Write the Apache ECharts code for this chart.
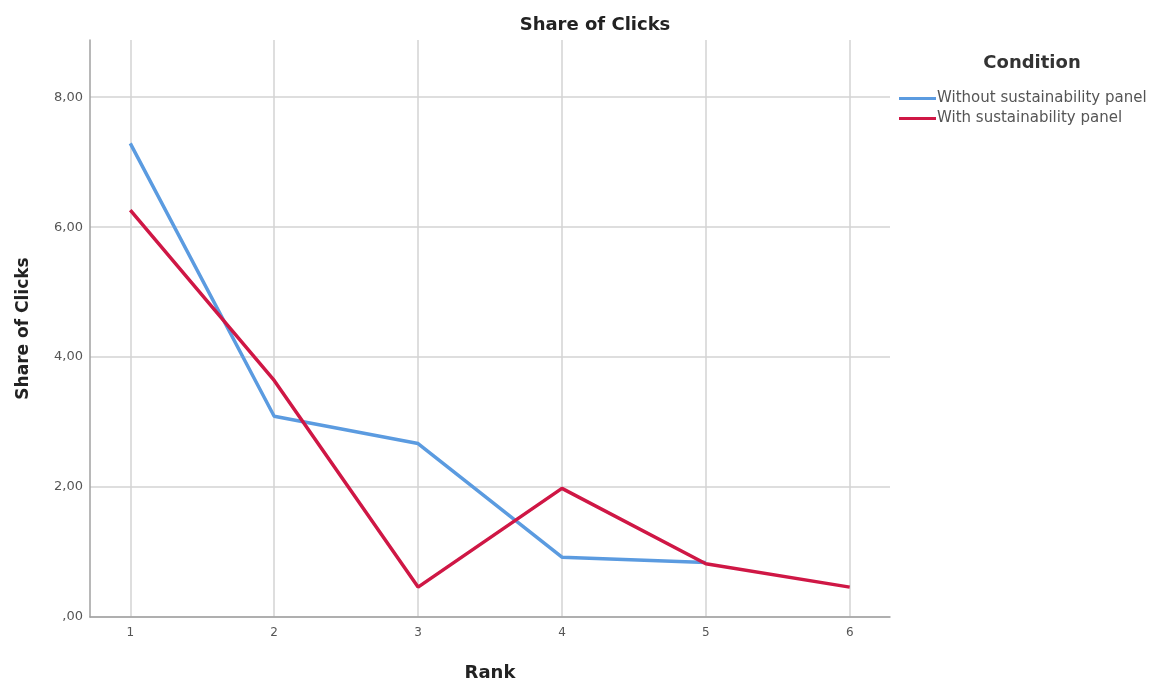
<!DOCTYPE html>
<html>
<head>
<meta charset="utf-8">
<script src="https://cdn.jsdelivr.net/npm/echarts@6/dist/echarts.min.js"></script>
<style>
html,body{margin:0;padding:0;background:#fff;}
#chart{width:1171px;height:688px;}
</style>
</head>
<body>
<div id="chart"></div>
<script>
const ranks = [1, 2, 3, 4, 5, 6];
const withoutPanel = [7.29, 3.09, 2.67, 0.92, 0.84, null];
const withPanel = [6.26, 3.64, 0.46, 1.98, 0.82, 0.46];
const yTicks = [0, 2, 4, 6, 8];
const seriesNames = ['Without sustainability panel', 'With sustainability panel'];

const FONT = '"DejaVu Sans", Verdana, sans-serif';
const toPairs = vals => ranks.map((r, i) => [r, vals[i]]).filter(p => p[1] !== null);
const fmt = v => v === 0 ? ',00' : v.toFixed(2).replace('.', ',');

const chart = echarts.init(document.getElementById('chart'), null, {renderer: 'canvas'});
chart.setOption({
  backgroundColor: '#fff',
  animation: false,
  title: [
    {text: 'Share of Clicks', left: 590, top: 11, textAlign: 'center',
     textStyle: {fontFamily: FONT, fontSize: 18, fontWeight: 'bold', color: '#222'}},
    {text: 'Condition', left: 1027, top: 49, textAlign: 'center',
     textStyle: {fontFamily: FONT, fontSize: 18, fontWeight: 'bold', color: '#333'}}
  ],
  legend: {
    orient: 'vertical', left: 894, top: 86, itemWidth: 37, itemHeight: 3, itemGap: 5,
    icon: 'rect',
    textStyle: {fontFamily: FONT, fontSize: 15, color: '#555', padding: [0, 0, 0, -4]},
    data: seriesNames
  },
  grid: {left: 90, right: 281, top: 40, bottom: 71, containLabel: false},
  xAxis: {
    type: 'value', min: 0.72, max: 6.28,
    name: 'Rank', nameLocation: 'middle', nameGap: 47,
    nameTextStyle: {fontFamily: FONT, fontSize: 18, fontWeight: 'bold', color: '#222'},
    axisLine: {show: true, lineStyle: {color: '#a0a0a0', width: 1.5}},
    axisTick: {show: false, customValues: ranks},
    axisLabel: {customValues: ranks, margin: 10, fontFamily: FONT, fontSize: 12, color: '#555',
                formatter: v => String(v)},
    splitLine: {show: true, lineStyle: {color: '#d3d3d3', width: 1.5}}
  },
  yAxis: {
    type: 'value', min: 0, max: 8.88,
    name: 'Share of Clicks', nameLocation: 'middle', nameGap: 58,
    nameTextStyle: {fontFamily: FONT, fontSize: 17, fontWeight: 'bold', color: '#222'},
    axisLine: {show: true, lineStyle: {color: '#a0a0a0', width: 1.5}},
    axisTick: {show: false, customValues: yTicks},
    axisLabel: {customValues: yTicks, margin: 7, fontFamily: FONT, fontSize: 13, color: '#555',
                formatter: fmt},
    splitLine: {show: true, lineStyle: {color: '#d3d3d3', width: 1.5}}
  },
  series: [
    {name: seriesNames[0], type: 'line', data: toPairs(withoutPanel), showSymbol: false,
     symbol: 'none', color: '#5B9BE0', lineStyle: {width: 3.5, color: '#5B9BE0'}, z: 2},
    {name: seriesNames[1], type: 'line', data: toPairs(withPanel), showSymbol: false,
     symbol: 'none', color: '#CF1745', lineStyle: {width: 3.5, color: '#CF1745'}, z: 3}
  ]
});
</script>
</body>
</html>
